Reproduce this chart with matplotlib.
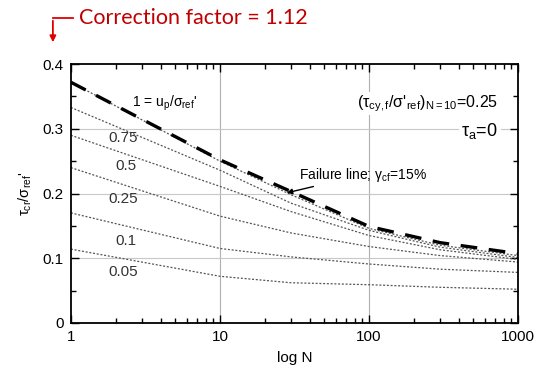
import matplotlib
matplotlib.use("Agg")
import matplotlib.pyplot as plt
from matplotlib.lines import Line2D
from matplotlib.patches import FancyArrowPatch
from matplotlib.ticker import FixedLocator, NullFormatter

plt.rcParams['font.family'] = ['Liberation Sans', 'DejaVu Sans']
plt.rcParams['mathtext.fontset'] = 'custom'
plt.rcParams['mathtext.rm'] = 'Liberation Sans'
plt.rcParams['mathtext.it'] = 'Liberation Sans:italic'
plt.rcParams['mathtext.default'] = 'regular'

#%% curve values read per number of cycles
N = [1, 10, 30, 100, 300, 1000]
failure = [0.372, 0.252, 0.203, 0.149, 0.124, 0.107]
ratios = ['1', '0.75', '0.5', '0.25', '0.1', '0.05']
curves = {
    '1':    [0.372, 0.250, 0.198, 0.146, 0.120, 0.104],
    '0.75': [0.333, 0.236, 0.185, 0.143, 0.117, 0.101],
    '0.5':  [0.290, 0.211, 0.172, 0.135, 0.113, 0.098],
    '0.25': [0.240, 0.165, 0.139, 0.118, 0.104, 0.094],
    '0.1':  [0.170, 0.115, 0.102, 0.091, 0.083, 0.078],
    '0.05': [0.114, 0.072, 0.062, 0.059, 0.055, 0.052],
}
# label positions (N, value) for each curve
label_pos = {
    '0.75': (2.25, 0.286),
    '0.5':  (2.35, 0.242),
    '0.25': (2.25, 0.192),
    '0.1':  (2.35, 0.126),
    '0.05': (2.25, 0.079),
}
yticks = [0, 0.1, 0.2, 0.3, 0.4]
ytick_labels = ['0', '0.1', '0.2', '0.3', '0.4']
xticks = [1, 10, 100, 1000]
xtick_labels = ['1', '10', '100', '1000']

fig = plt.figure(figsize=(5.37, 3.75), dpi=100)
ax = fig.add_axes([0.132, 0.139, 0.833, 0.690])

for r in ratios:
    ax.plot(N, curves[r], color='#555555', lw=0.9, ls=(0, (1.6, 1.4)))
ax.plot(N, failure, color='black', lw=2.4, ls=(0, (5, 3.5)))

ax.text(2.55, 0.340, "1 = u$_{p}$/$\\sigma_{ref}$'", fontsize=10, va='center')
for r, (x, y) in label_pos.items():
    ax.text(x, y, r, fontsize=11, color='#333333', ha='center', va='center')

ax.text(0.955, 0.848, "($\\tau_{cy,f}$/$\\sigma$'$_{ref}$)$_{N=10}$=0.25",
        transform=ax.transAxes, ha='right', va='center', fontsize=11.5,
        bbox=dict(facecolor='white', edgecolor='none', pad=1))
ax.text(0.955, 0.742, "$\\tau_{a}$=0", transform=ax.transAxes, ha='right',
        va='center', fontsize=13,
        bbox=dict(facecolor='white', edgecolor='none', pad=2))
ax.annotate("Failure line; $\\gamma_{cf}$=15%", xy=(28, 0.201), xytext=(34, 0.229),
            fontsize=10, va='center',
            arrowprops=dict(arrowstyle='-|>', color='black', lw=1.0,
                            mutation_scale=8, shrinkA=0, shrinkB=0))

ax.set_xscale('log')
ax.set_xlim(1, 1000)
ax.set_ylim(0, 0.4)
ax.xaxis.set_major_locator(FixedLocator(xticks))
ax.set_xticklabels(xtick_labels)
ax.xaxis.set_minor_formatter(NullFormatter())
ax.set_yticks(yticks)
ax.set_yticklabels(ytick_labels)
ax.set_yticks([0.05, 0.15, 0.25, 0.35], minor=True)
ax.tick_params(which='both', direction='in', top=True, right=True, labelsize=11, width=1.0)
ax.tick_params(which='major', length=6, pad=5)
ax.tick_params(which='minor', length=3.5)
for s in ax.spines.values():
    s.set_linewidth(1.3)

for xv in [10, 100]:
    ax.axvline(xv, color='#b0b0b0', lw=0.8, zorder=0)
for yv in [0.1, 0.2, 0.3]:
    ax.axhline(yv, color='#c8c8c8', lw=0.8, zorder=0)

ax.set_xlabel('log N', fontsize=11, labelpad=5)
ax.set_ylabel("$\\tau_{cr}$/$\\sigma_{ref}$'", fontsize=10.5, labelpad=6)

# red header with the bent arrow
fig.text(0.148, 0.952, 'Correction factor = 1.12', color='#c00000', fontsize=15.5,
         family=['Lato', 'DejaVu Sans'], va='center')
fig.add_artist(Line2D([0.098, 0.136], [0.952, 0.952], color='#e00000', lw=1.3,
                      transform=fig.transFigure))
fig.add_artist(FancyArrowPatch(
    (0.0985, 0.952), (0.0985, 0.880), transform=fig.transFigure,
    arrowstyle='-|>', mutation_scale=9, color='#e00000', lw=1.3))

plt.savefig('out.png', dpi=100)
